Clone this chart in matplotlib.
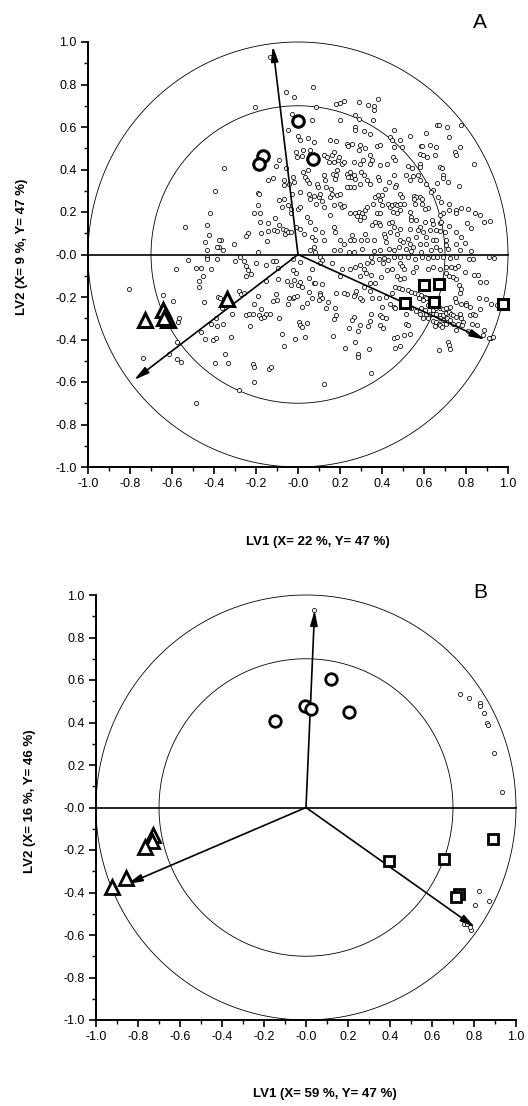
import numpy as np
import matplotlib
matplotlib.use("Agg")
import matplotlib.pyplot as plt

plt.rcParams['font.family'] = ['Liberation Sans', 'DejaVu Sans']

# ---------------- panel A data ----------------
a_small = [
    # upper left
    (-0.132, 0.931), (-0.057, 0.766), (-0.018, 0.742), (-0.204, 0.692), (-0.03, 0.66), (0.001, 0.557),
    (-0.05, 0.588), (-0.354, 0.408), (-0.105, 0.416), (-0.089, 0.447), (-0.057, 0.405), (-0.01, 0.483),
    (-0.005, 0.46), (-0.142, 0.35), (-0.121, 0.362), (-0.065, 0.35), (-0.065, 0.326), (-0.042, 0.334),
    (-0.026, 0.365), (-0.018, 0.342), (-0.396, 0.298), (-0.192, 0.29), (-0.184, 0.284), (-0.03, 0.284),
    (-0.069, 0.259), (-0.418, 0.193), (-0.189, 0.235), (-0.211, 0.197), (-0.181, 0.196), (-0.089, 0.255),
    (-0.078, 0.224), (-0.05, 0.232), (-0.034, 0.216), (-0.034, 0.193), (-0.002, 0.216), (-0.11, 0.172),
    (-0.089, 0.138), (-0.113, 0.117), (-0.1, 0.111), (-0.073, 0.122), (-0.057, 0.117), (-0.061, 0.098),
    (-0.05, 0.106), (-0.034, 0.106), (-0.01, 0.13), (-0.142, 0.149), (-0.145, 0.109), (-0.18, 0.153),
    (-0.176, 0.102), (-0.237, 0.102), (-0.248, 0.086), (-0.434, 0.141), (-0.426, 0.091), (-0.442, 0.059),
    (-0.434, 0.023), (-0.367, 0.067), (-0.375, 0.033), (-0.359, 0.023), (-0.304, 0.048), (-0.148, 0.062),
    (-0.189, 0.012), (-0.539, 0.13), (-0.378, 0.07), (-0.386, 0.036),
    # upper middle
    (0.07, 0.79), (0.087, 0.695), (0.18, 0.706), (0.2, 0.711), (0.217, 0.722), (0.292, 0.717),
    (0.332, 0.703), (0.363, 0.698), (0.363, 0.679), (0.381, 0.731), (0.27, 0.656), (0.2, 0.632),
    (0.292, 0.64), (0.357, 0.632), (0.455, 0.588), (0.067, 0.632), (0.27, 0.598), (0.27, 0.588),
    (0.313, 0.58), (0.341, 0.566), (0.011, 0.538), (0.046, 0.546), (0.078, 0.53), (0.154, 0.538),
    (0.182, 0.533), (0.233, 0.522), (0.238, 0.51), (0.257, 0.519), (0.294, 0.514), (0.289, 0.491),
    (0.321, 0.499), (0.376, 0.51), (0.389, 0.514), (0.344, 0.467), (0.44, 0.554), (0.448, 0.538),
    (0.487, 0.538), (0.495, 0.507), (0.455, 0.507), (0.452, 0.459), (0.46, 0.444), (0.424, 0.428),
    (0.024, 0.491), (0.055, 0.494), (0.055, 0.475), (0.019, 0.463), (0.122, 0.467), (0.138, 0.46),
    (0.162, 0.467), (0.17, 0.483), (0.146, 0.436), (0.17, 0.436), (0.189, 0.444), (0.194, 0.46),
    (0.21, 0.428), (0.217, 0.436), (0.265, 0.436), (0.294, 0.428), (0.309, 0.444), (0.344, 0.428),
    (0.352, 0.444), (0.392, 0.42), (0.024, 0.389), (0.046, 0.397), (0.035, 0.365), (0.043, 0.35),
    (0.051, 0.337), (0.09, 0.334), (0.094, 0.318), (0.122, 0.373), (0.13, 0.35), (0.135, 0.318),
    (0.157, 0.31), (0.167, 0.381), (0.182, 0.373), (0.174, 0.353), (0.186, 0.397), (0.233, 0.381),
    (0.246, 0.389), (0.252, 0.365), (0.238, 0.365), (0.265, 0.373), (0.273, 0.357), (0.249, 0.318),
    (0.233, 0.318), (0.265, 0.318), (0.297, 0.334), (0.3, 0.389), (0.313, 0.373), (0.328, 0.35),
    (0.344, 0.334), (0.379, 0.365), (0.384, 0.35), (0.459, 0.373), (0.468, 0.329), (0.463, 0.318),
    (0.432, 0.342), (0.416, 0.306), (0.011, 0.295), (0.051, 0.287), (0.059, 0.263), (0.074, 0.274),
    (0.098, 0.271), (0.106, 0.287), (0.087, 0.24), (0.114, 0.252), (0.122, 0.224), (0.154, 0.271),
    (0.162, 0.287), (0.186, 0.279), (0.198, 0.287), (0.17, 0.232), (0.154, 0.185), (0.202, 0.24),
    (0.21, 0.224), (0.217, 0.227), (0.249, 0.193), (0.273, 0.193), (0.281, 0.18), (0.289, 0.201),
    (0.305, 0.193), (0.313, 0.177), (0.297, 0.161), (0.317, 0.208), (0.328, 0.224), (0.368, 0.271),
    (0.379, 0.279), (0.392, 0.255), (0.4, 0.279), (0.357, 0.24), (0.4, 0.232), (0.427, 0.24),
    (0.44, 0.224), (0.448, 0.232), (0.463, 0.24), (0.471, 0.232), (0.487, 0.24), (0.503, 0.24),
    (0.484, 0.287), (0.495, 0.271), (0.452, 0.201), (0.471, 0.193), (0.487, 0.208), (0.376, 0.193),
    (0.392, 0.193), (0.368, 0.153), (0.384, 0.146), (0.392, 0.138), (0.352, 0.138), (0.432, 0.146),
    (0.448, 0.153), (0.455, 0.13), (0.44, 0.106), (0.471, 0.098), (0.487, 0.122), (0.408, 0.098),
    (0.416, 0.083), (0.421, 0.059), (0.36, 0.067), (0.328, 0.067), (0.321, 0.098), (0.3, 0.067),
    (0.257, 0.091), (0.249, 0.07), (0.265, 0.067), (0.217, 0.051), (0.202, 0.067), (0.178, 0.106),
    (0.17, 0.13), (0.122, 0.067), (0.114, 0.106), (0.082, 0.122), (0.059, 0.153), (0.043, 0.177),
    (0.011, 0.224), (0.011, 0.122), (0.027, 0.098), (0.067, 0.083), (0.082, 0.067), (0.074, 0.036),
    (0.082, 0.012), (0.059, 0.02), (0.17, 0.02), (0.202, 0.02), (0.241, 0.012), (0.265, 0.012),
    (0.305, 0.028), (0.36, 0.017), (0.392, 0.02), (0.432, 0.028), (0.455, 0.02), (0.479, 0.036),
    (0.487, 0.067), (0.5, 0.059),
    # upper right
    (0.662, 0.609), (0.67, 0.609), (0.711, 0.601), (0.775, 0.609), (0.608, 0.573), (0.719, 0.554),
    (0.535, 0.557), (0.587, 0.51), (0.592, 0.51), (0.63, 0.514), (0.659, 0.507), (0.773, 0.507),
    (0.746, 0.483), (0.754, 0.467), (0.583, 0.475), (0.595, 0.467), (0.614, 0.46), (0.651, 0.467),
    (0.838, 0.425), (0.579, 0.428), (0.583, 0.412), (0.524, 0.416), (0.545, 0.408), (0.675, 0.412),
    (0.687, 0.408), (0.516, 0.373), (0.548, 0.368), (0.572, 0.373), (0.583, 0.35), (0.535, 0.35),
    (0.691, 0.376), (0.691, 0.358), (0.662, 0.337), (0.714, 0.342), (0.767, 0.321), (0.611, 0.334),
    (0.643, 0.303), (0.635, 0.295), (0.551, 0.274), (0.564, 0.271), (0.583, 0.271), (0.592, 0.263),
    (0.551, 0.259), (0.667, 0.271), (0.683, 0.248), (0.556, 0.237), (0.592, 0.237), (0.619, 0.221),
    (0.603, 0.212), (0.719, 0.24), (0.719, 0.208), (0.751, 0.208), (0.751, 0.193), (0.778, 0.219),
    (0.81, 0.216), (0.865, 0.185), (0.913, 0.157), (0.805, 0.149), (0.826, 0.127), (0.691, 0.193),
    (0.675, 0.185), (0.532, 0.201), (0.54, 0.177), (0.54, 0.161), (0.564, 0.161), (0.603, 0.153),
    (0.64, 0.161), (0.643, 0.142), (0.675, 0.146), (0.683, 0.153), (0.719, 0.133), (0.579, 0.13),
    (0.572, 0.114), (0.532, 0.122), (0.595, 0.106), (0.627, 0.114), (0.659, 0.114), (0.675, 0.111),
    (0.699, 0.106), (0.754, 0.106), (0.778, 0.083), (0.794, 0.056), (0.754, 0.048), (0.703, 0.067),
    (0.706, 0.043), (0.714, 0.028), (0.611, 0.083), (0.643, 0.07), (0.659, 0.067), (0.564, 0.083),
    (0.524, 0.075), (0.532, 0.051), (0.548, 0.036), (0.579, 0.051), (0.611, 0.048), (0.635, 0.02),
    (0.659, 0.036), (0.826, 0.017), (0.77, 0.02), (0.675, 0.02), (0.54, 0.017), (0.587, 0.012),
    (0.516, 0.028), (0.908, -0.011), (0.887, 0.154), (0.844, 0.193),
    # lower left
    (-0.523, -0.025), (-0.582, -0.069), (-0.805, -0.163), (-0.645, -0.191), (-0.597, -0.22),
    (-0.566, -0.301), (-0.57, -0.317), (-0.578, -0.414), (-0.74, -0.485), (-0.574, -0.494),
    (-0.558, -0.505), (-0.615, -0.469),
    (-0.431, -0.011), (-0.431, -0.022), (-0.386, -0.022), (-0.486, -0.063), (-0.462, -0.063),
    (-0.415, -0.069), (-0.454, -0.1), (-0.47, -0.125), (-0.47, -0.152), (-0.3, -0.031), (-0.275, -0.011),
    (-0.259, -0.031), (-0.248, -0.053), (-0.24, -0.074), (-0.248, -0.1), (-0.224, -0.094), (-0.2, -0.038),
    (-0.153, -0.05), (-0.121, -0.031), (-0.105, -0.031), (-0.097, -0.063), (-0.026, -0.022),
    (-0.026, -0.074), (-0.01, -0.085), (-0.053, -0.125), (-0.018, -0.121), (-0.034, -0.144),
    (-0.002, -0.144), (-0.094, -0.116), (-0.192, -0.195), (-0.153, -0.125), (-0.28, -0.173),
    (-0.272, -0.188), (-0.256, -0.179), (-0.38, -0.199), (-0.37, -0.204), (-0.45, -0.223),
    (-0.362, -0.251), (-0.315, -0.282), (-0.391, -0.298), (-0.415, -0.325), (-0.386, -0.336),
    (-0.359, -0.328), (-0.462, -0.367), (-0.443, -0.399), (-0.407, -0.403), (-0.391, -0.392),
    (-0.319, -0.388), (-0.248, -0.286), (-0.232, -0.278), (-0.216, -0.278), (-0.211, -0.231),
    (-0.184, -0.286), (-0.177, -0.298), (-0.161, -0.293), (-0.153, -0.282), (-0.132, -0.282),
    (-0.121, -0.22), (-0.105, -0.188), (-0.1, -0.215), (-0.177, -0.257), (-0.042, -0.204),
    (-0.026, -0.204), (-0.018, -0.198), (-0.005, -0.196), (-0.05, -0.231), (-0.089, -0.301),
    (-0.078, -0.375), (-0.065, -0.43), (-0.015, -0.399), (0.006, -0.317), (0.011, -0.333),
    (-0.227, -0.336), (-0.346, -0.469), (-0.396, -0.51), (-0.332, -0.51), (-0.216, -0.513),
    (-0.208, -0.529), (-0.137, -0.537), (-0.129, -0.53), (-0.208, -0.601), (-0.28, -0.636),
    (-0.486, -0.697),
    # lower middle
    (0.011, -0.034), (0.067, -0.066), (0.106, -0.011), (0.114, -0.027), (0.106, -0.042), (0.162, -0.042),
    (0.21, -0.069), (0.202, -0.1), (0.246, -0.066), (0.273, -0.061), (0.297, -0.05), (0.316, -0.066),
    (0.325, -0.089), (0.348, -0.097), (0.328, -0.042), (0.352, -0.034), (0.348, -0.011), (0.384, -0.019),
    (0.408, -0.016), (0.427, -0.027), (0.455, -0.011), (0.487, -0.011), (0.484, -0.038), (0.495, -0.053),
    (0.503, -0.069), (0.405, -0.042), (0.424, -0.074), (0.448, -0.066), (0.395, -0.105), (0.368, -0.136),
    (0.313, -0.152), (0.294, -0.1), (0.341, -0.136), (0.344, -0.173), (0.471, -0.1), (0.487, -0.116),
    (0.503, -0.11), (0.463, -0.152), (0.479, -0.157), (0.495, -0.163), (0.448, -0.179), (0.421, -0.199),
    (0.387, -0.207), (0.352, -0.204), (0.305, -0.215), (0.294, -0.204), (0.273, -0.184), (0.278, -0.173),
    (0.265, -0.195), (0.233, -0.184), (0.217, -0.179), (0.182, -0.179), (0.141, -0.223), (0.135, -0.251),
    (0.178, -0.251), (0.103, -0.179), (0.106, -0.191), (0.114, -0.207), (0.098, -0.215), (0.074, -0.136),
    (0.082, -0.136), (0.114, -0.141), (0.051, -0.11), (0.011, -0.129), (0.019, -0.152), (0.051, -0.176),
    (0.067, -0.204), (0.043, -0.226), (0.019, -0.246), (0.44, -0.235), (0.455, -0.246), (0.463, -0.254),
    (0.4, -0.246), (0.348, -0.282), (0.389, -0.286), (0.4, -0.293), (0.421, -0.301), (0.341, -0.314),
    (0.332, -0.336), (0.297, -0.33), (0.265, -0.293), (0.257, -0.309), (0.241, -0.348), (0.284, -0.361),
    (0.182, -0.286), (0.17, -0.304), (0.043, -0.32), (0.019, -0.341), (0.035, -0.388), (0.167, -0.383),
    (0.273, -0.414), (0.222, -0.439), (0.286, -0.469), (0.284, -0.482), (0.34, -0.447), (0.459, -0.392),
    (0.471, -0.388), (0.487, -0.43), (0.503, -0.38), (0.463, -0.439), (0.516, -0.325), (0.348, -0.557),
    (0.122, -0.611), (0.405, -0.348), (0.392, -0.33),
    # lower right
    (0.524, -0.011), (0.556, -0.019), (0.564, -0.058), (0.548, -0.082), (0.592, -0.011), (0.619, -0.016),
    (0.643, -0.011), (0.662, -0.011), (0.691, -0.011), (0.722, -0.016), (0.754, -0.011), (0.814, -0.022),
    (0.833, -0.019), (0.933, -0.016), (0.619, -0.066), (0.643, -0.058), (0.675, -0.066), (0.703, -0.058),
    (0.73, -0.058), (0.746, -0.063), (0.762, -0.053), (0.706, -0.089), (0.719, -0.1), (0.738, -0.105),
    (0.754, -0.113), (0.794, -0.082), (0.857, -0.097), (0.894, -0.129), (0.767, -0.144), (0.778, -0.16),
    (0.77, -0.179), (0.579, -0.141), (0.611, -0.157), (0.524, -0.168), (0.54, -0.176), (0.556, -0.179),
    (0.572, -0.188), (0.587, -0.191), (0.603, -0.199), (0.611, -0.207), (0.63, -0.207), (0.64, -0.22),
    (0.576, -0.207), (0.595, -0.215), (0.619, -0.238), (0.643, -0.262), (0.656, -0.254), (0.675, -0.251),
    (0.691, -0.257), (0.706, -0.254), (0.722, -0.246), (0.746, -0.207), (0.754, -0.223), (0.778, -0.235),
    (0.802, -0.226), (0.799, -0.238), (0.818, -0.246), (0.862, -0.207), (0.897, -0.21), (0.921, -0.235),
    (0.948, -0.238), (0.54, -0.254), (0.564, -0.267), (0.579, -0.278), (0.587, -0.254), (0.603, -0.262),
    (0.611, -0.282), (0.627, -0.278), (0.643, -0.278), (0.659, -0.282), (0.675, -0.286), (0.691, -0.286),
    (0.703, -0.273), (0.719, -0.27), (0.73, -0.278), (0.738, -0.286), (0.754, -0.293), (0.77, -0.282),
    (0.778, -0.301), (0.786, -0.317), (0.818, -0.286), (0.833, -0.282), (0.841, -0.286), (0.865, -0.257),
    (0.71, -0.301), (0.722, -0.309), (0.675, -0.301), (0.691, -0.309), (0.643, -0.314), (0.659, -0.317),
    (0.672, -0.325), (0.651, -0.336), (0.678, -0.33), (0.687, -0.341), (0.703, -0.325), (0.738, -0.325),
    (0.762, -0.325), (0.751, -0.356), (0.783, -0.33), (0.81, -0.361), (0.83, -0.325), (0.854, -0.333),
    (0.886, -0.356), (0.881, -0.38), (0.921, -0.392), (0.929, -0.388), (0.91, -0.395), (0.516, -0.278),
    (0.524, -0.333), (0.532, -0.372), (0.595, -0.301), (0.619, -0.301), (0.714, -0.414), (0.719, -0.427),
    (0.726, -0.443), (0.67, -0.45), (0.837, -0.095), (0.868, -0.13),
]
a_circles_x = [0.00, -0.165, -0.185, 0.07]
a_circles_y = [0.63, 0.465, 0.425, 0.45]
a_tri_x = [-0.34, -0.645, -0.73, -0.62, -0.64]
a_tri_y = [-0.21, -0.26, -0.31, -0.31, -0.30]
a_sq_x = [0.60, 0.673, 0.511, 0.649, 0.975]
a_sq_y = [-0.142, -0.137, -0.227, -0.224, -0.231]
a_arrows = [(-0.12, 0.98), (-0.78, -0.59), (0.89, -0.40)]

# ---------------- panel B data ----------------
b_small_x = [0.036, 0.734, 0.778, 0.829, 0.83, 0.848, 0.861, 0.868, 0.895, 0.932,
             0.824, 0.805, 0.872, 0.75, 0.765, 0.786, 0.781]
b_small_y = [0.931, 0.534, 0.516, 0.493, 0.479, 0.444, 0.396, 0.387, 0.258, 0.075,
             -0.391, -0.457, -0.441, -0.55, -0.55, -0.576, -0.564]
b_circles_x = [-0.149, -0.003, 0.024, 0.12, 0.206]
b_circles_y = [0.408, 0.477, 0.465, 0.607, 0.448]
b_tri_x = [-0.729, -0.732, -0.769, -0.859, -0.926]
b_tri_y = [-0.129, -0.156, -0.184, -0.333, -0.376]
b_sq_x = [0.889, 0.396, 0.658, 0.727, 0.716]
b_sq_y = [-0.148, -0.25, -0.242, -0.407, -0.423]
b_arrows = [(0.041, 0.928), (-0.851, -0.36), (0.805, -0.564)]

W, H = 528, 1106
fig = plt.figure(figsize=(W / 100, H / 100), dpi=100)


def draw_panel(ax, sx, sy, cx, cy, tx, ty, qx, qy, arrows, edge):
    t = np.linspace(0, 2 * np.pi, 400)
    for r in (1.0, 0.7):
        ax.plot(r * np.cos(t), r * np.sin(t), color='k', lw=0.6, clip_on=False, zorder=1)
    ax.plot([-1, 1], [0, 0], color='k', lw=1.2, clip_on=False, zorder=2)
    ax.plot(sx, sy, 'o', ms=3.0, mfc='white', mec='k', mew=0.55, ls='none', zorder=3, clip_on=False)
    for x, y in arrows:
        ax.annotate('', xy=(x, y), xytext=(0, 0),
                    arrowprops=dict(arrowstyle='-|>,head_length=0.9,head_width=0.22',
                                    color='k', lw=1.2, shrinkA=0, shrinkB=0), zorder=4)
    ax.plot(cx, cy, 'o', ms=8.3, mfc='white', mec='k', mew=edge, ls='none', zorder=5)
    ax.plot(tx, ty, '^', ms=9.5, mfc='white', mec='k', mew=edge, ls='none', zorder=5)
    ax.plot(qx, qy, 's', ms=7.5, mfc='white', mec='k', mew=edge, ls='none', zorder=5, clip_on=False)

    ax.set_xlim(-1, 1)
    ax.set_ylim(-1, 1)
    ax.set_xticks(np.arange(-1, 1.01, 0.2))
    ax.set_yticks(np.arange(-1, 1.01, 0.2))
    ax.set_xticks(np.arange(-1, 1.01, 0.1), minor=True)
    ax.set_yticks(np.arange(-1, 1.01, 0.1), minor=True)
    ax.xaxis.set_major_formatter(matplotlib.ticker.FormatStrFormatter('%.1f'))
    ax.yaxis.set_major_formatter(matplotlib.ticker.FormatStrFormatter('%.1f'))
    ax.tick_params(which='major', direction='out', length=5, width=1.2, labelsize=9, pad=3)
    ax.tick_params(which='minor', direction='out', length=3, width=1.0)
    ax.spines['top'].set_visible(False)
    ax.spines['right'].set_visible(False)
    ax.spines['left'].set_linewidth(1.4)
    ax.spines['bottom'].set_linewidth(1.4)
    ax.patch.set_alpha(0)


# panel A
axA = fig.add_axes([88 / W, 1 - 467 / H, 420 / W, 425 / H])
a_small = np.array(a_small)
draw_panel(axA, a_small[:, 0], a_small[:, 1], a_circles_x, a_circles_y,
           a_tri_x, a_tri_y, a_sq_x, a_sq_y, a_arrows, 2.2)
fig.text(480 / W, 1 - 22 / H, 'A', fontsize=15, ha='center', va='center')
fig.text(318 / W, 1 - 542 / H, 'LV1 (X= 22 %, Y= 47 %)', fontsize=9.5, fontweight='bold',
         ha='center', va='center')
fig.text(22 / W, 1 - 247 / H, 'LV2 (X= 9 %, Y= 47 %)', fontsize=9.5, fontweight='bold',
         ha='center', va='center', rotation=90)

# panel B
axB = fig.add_axes([96 / W, 1 - 1020 / H, 420 / W, 425 / H])
draw_panel(axB, b_small_x, b_small_y, b_circles_x, b_circles_y,
           b_tri_x, b_tri_y, b_sq_x, b_sq_y, b_arrows, 2.0)
fig.text(480 / W, 1 - 593 / H, 'B', fontsize=15, ha='center', va='center')
fig.text(325 / W, 1 - 1094 / H, 'LV1 (X= 59 %, Y= 47 %)', fontsize=9.5, fontweight='bold',
         ha='center', va='center')
fig.text(30 / W, 1 - 801 / H, 'LV2 (X= 16 %, Y= 46 %)', fontsize=9.5, fontweight='bold',
         ha='center', va='center', rotation=90)

fig.savefig('out.png', dpi=100)
